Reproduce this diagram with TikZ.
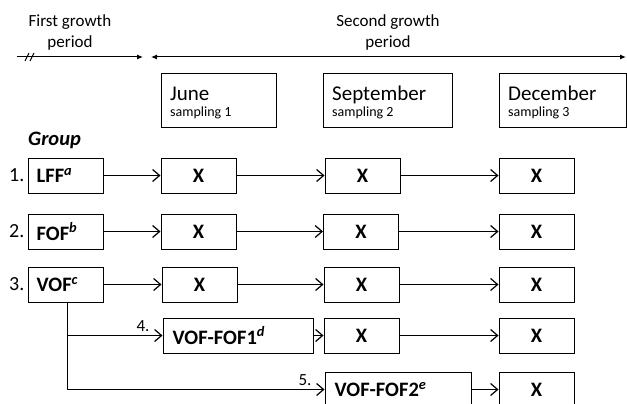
\documentclass[tikz,border=0pt]{standalone}
\usepackage{fontspec}
\setmainfont{Carlito}
\usetikzlibrary{arrows.meta}
\begin{document}
\begin{tikzpicture}[x=1pt,y=-1pt,
  box/.style={draw, line width=1pt, inner sep=0pt, minimum height=35pt},
  sbox/.style={box, minimum width=75pt, font=\fontsize{20.5}{24}\selectfont\bfseries},
  mbox/.style={draw, line width=1pt, inner sep=0pt, minimum height=53pt},
  lbl/.style={anchor=west, inner sep=0pt, font=\fontsize{20.5}{24}\selectfont\bfseries},
  num/.style={anchor=east, inner sep=0pt, font=\fontsize{20}{24}\selectfont},
  snum/.style={inner sep=0pt, font=\fontsize{17}{20}\selectfont},
  conn/.style={line width=1pt, -{Straight Barb[length=7pt,width=12pt,line width=1.2pt]}},
  period/.style={align=center, inner sep=0pt, font=\fontsize{17}{21}\selectfont},
  tl/.style={line width=1pt}
]
\useasboundingbox (0,0) rectangle (627,404);
\clip (0,0) rectangle (627,404);

% header
\node[period] (p1) at (70,32.5) {First growth\\period};
\node[period] (p2) at (388,32.5) {Second growth\\period};
\coordinate (t1a) at (17,57);
\coordinate (t1b) at (143,57);
\coordinate (t2a) at (151,57);
\coordinate (t2b) at (626,57);
\draw[tl, -{Latex[length=6pt,width=5pt]}] (t1a) -- (t1b);
\draw[tl] (25,61) -- (29,53) (30,61) -- (34,53);
\draw[tl, {Latex[length=6pt,width=5pt]}-{Latex[length=6pt,width=5pt]}] (t2a) -- (t2b);

% month boxes
\node[mbox, minimum width=115pt] (june) at (218.5,100.5) {};
\node[mbox, minimum width=129pt] (sep) at (387.5,100.5) {};
\node[mbox, minimum width=127pt] (dec) at (562.5,100.5) {};
\node[anchor=base west, inner sep=0pt, font=\fontsize{21}{24}\selectfont] (junet) at (170,100) {June};
\node[anchor=base west, inner sep=0pt, font=\fontsize{14}{16}\selectfont] (junes) at (170,117) {sampling 1};
\node[anchor=base west, inner sep=0pt, font=\fontsize{21}{24}\selectfont] (sept) at (332,100) {September};
\node[anchor=base west, inner sep=0pt, font=\fontsize{14}{16}\selectfont] (seps) at (332,117) {sampling 2};
\node[anchor=base west, inner sep=0pt, font=\fontsize{21}{24}\selectfont] (dect) at (508,100) {December};
\node[anchor=base west, inner sep=0pt, font=\fontsize{14}{16}\selectfont] (decs) at (508,117) {sampling 3};

\node[anchor=west, inner sep=0pt, font=\fontsize{20.5}{24}\selectfont\bfseries\itshape] (grp) at (28,140) {Group};

% row 1
\node[sbox] (r1a) at (65.5,175.5) {};
\node[lbl] (r1t) at ([xshift=9pt]r1a.west) {LFF\textsuperscript{\itshape a}};
\node[num] (n1) at ([xshift=-3pt]r1a.west) {1.};
\node[sbox] (r1b) at (198.5,175.5) {X};
\node[sbox] (r1c) at (362.5,175.5) {X};
\node[sbox] (r1d) at (536.5,175.5) {X};
\draw[conn] (r1a) -- (r1b);
\draw[conn] (r1b) -- (r1c);
\draw[conn] (r1c) -- (r1d);

% row 2
\node[sbox] (r2a) at (65.5,231.5) {};
\node[lbl] (r2t) at ([xshift=9pt]r2a.west) {FOF\textsuperscript{\itshape b}};
\node[num] (n2) at ([xshift=-3pt]r2a.west) {2.};
\node[sbox] (r2b) at (198.5,231.5) {X};
\node[sbox] (r2c) at (361,231.5) {X};
\node[sbox] (r2d) at (536.5,231.5) {X};
\draw[conn] (r2a) -- (r2b);
\draw[conn] (r2b) -- (r2c);
\draw[conn] (r2c) -- (r2d);

% row 3
\node[sbox] (r3a) at (65.5,284.5) {};
\node[lbl] (r3t) at ([xshift=9pt]r3a.west) {VOF\textsuperscript{\itshape c}};
\node[num] (n3) at ([xshift=-3pt]r3a.west) {3.};
\node[sbox] (r3b) at (199.5,284.5) {X};
\node[sbox] (r3c) at (361.5,284.5) {X};
\node[sbox] (r3d) at (536.5,284.5) {X};
\draw[conn] (r3a) -- (r3b);
\draw[conn] (r3b) -- (r3c);
\draw[conn] (r3c) -- (r3d);

% row 4
\node[box, minimum width=150pt] (r4a) at (238,335.5) {};
\node[lbl] (r4t) at ([xshift=10pt]r4a.west) {VOF-FOF1\textsuperscript{\itshape d}};
\node[sbox] (r4c) at (361.5,335.5) {X};
\node[sbox] (r4d) at (536.5,335.5) {X};
\draw[conn] (r4a) -- (r4c);
\draw[conn] (r4c) -- (r4d);

% row 5
\node[box, minimum width=146pt] (r5a) at (398,389.5) {};
\node[lbl] (r5t) at ([xshift=10pt]r5a.west) {VOF-FOF2\textsuperscript{\itshape e}};
\node[sbox] (r5d) at (536.5,389.5) {X};
\draw[conn] (r5a) -- (r5d);

% branches
\coordinate (br0) at (r3a.south -| 67,0);
\coordinate (br4) at (67,335.5);
\coordinate (br5) at (67,389.5);
\draw[line width=1pt] (br0) -- (br5);
\draw[conn] (br4) -- (r4a.west);
\draw[conn] (br5) -- (r5a.west);
\node[snum] (n4) at (143,326) {4.};
\node[snum] (n5) at (305,380) {5.};
\end{tikzpicture}
\end{document}
